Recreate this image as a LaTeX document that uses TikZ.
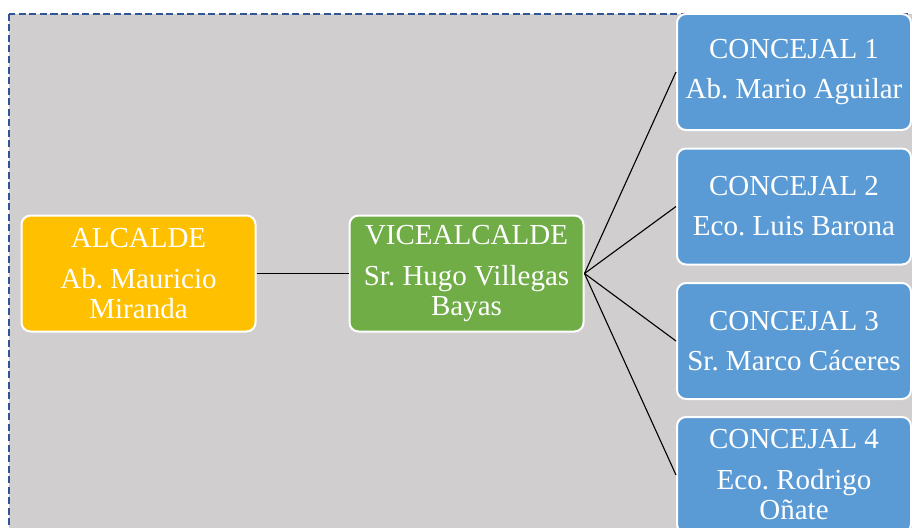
\documentclass[tikz,border=0pt]{standalone}
\usepackage{fontspec}
\setmainfont{Liberation Serif}
\frenchspacing
\definecolor{bggray}{HTML}{D0CECE}
\definecolor{dashblue}{HTML}{2F5597}
\definecolor{gold}{HTML}{FFC000}
\definecolor{vgreen}{HTML}{70AD47}
\definecolor{cblue}{HTML}{5B9BD5}
\tikzset{
  orgbox/.style={draw=white, line width=2pt, rounded corners=9pt, text=white,
    align=center, inner sep=0pt, minimum width=234pt, minimum height=116pt,
    font=\fontsize{29}{30}\selectfont\frenchspacing},
  link/.style={draw=black, line width=1.1pt}
}
\begin{document}
\begin{tikzpicture}[x=1pt,y=-1pt]
\useasboundingbox (0,0) rectangle (912,527);
\clip (0,0) rectangle (912,527);
\path[fill=bggray, draw=dashblue, line width=2pt, dash pattern=on 7pt off 3.5pt] (8.5,14) rectangle (930,545);
\node[orgbox, fill=gold] (alc) at (138.5,273.5) {ALCALDE\\[11pt]Ab. Mauricio\\Miranda};
\node[orgbox, fill=vgreen] (vice) at (466.5,273.5) {VICEALCALDE\\[11pt]Sr. Hugo Villegas\\Bayas};
\node[orgbox, fill=cblue] (c1) at (794,72) {CONCEJAL 1\\[10pt]Ab. Mario Aguilar};
\node[orgbox, fill=cblue] (c2) at (794,206.5) {CONCEJAL 2\\[10pt]Eco. Luis Barona};
\node[orgbox, fill=cblue] (c3) at (794,341) {CONCEJAL 3\\[10pt]Sr. Marco Cáceres};
\node[orgbox, fill=cblue] (c4) at (794,475) {CONCEJAL 4\\[11pt]Eco. Rodrigo\\Oñate};
\draw[link] (alc.east) -- (vice.west);
\foreach \c in {c1,c2,c3,c4}{\draw[link] (vice.east) -- (\c.west);}
\end{tikzpicture}
\end{document}
